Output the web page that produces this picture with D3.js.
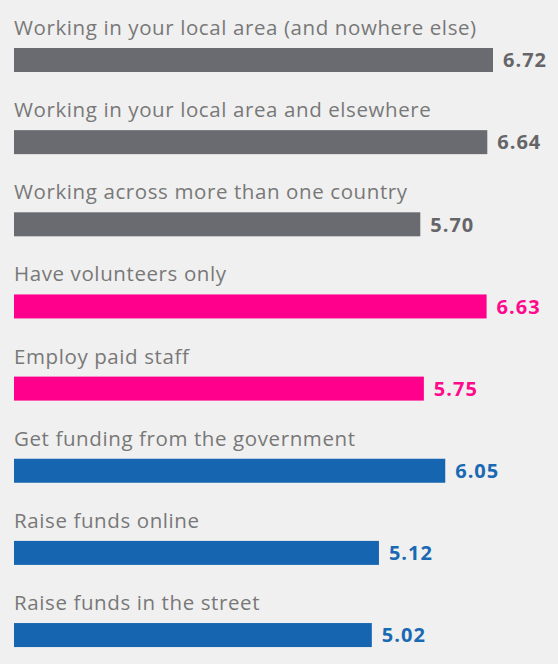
<!DOCTYPE html>
<html lang="en">
<head>
    <meta charset="UTF-8">
    <title>Ratings by group</title>
    <script src="https://cdn.jsdelivr.net/npm/d3@7"></script>
    <style>
        body {
            margin: 0;
            background-color: #f0f0f0;
        }

        .cat {
            font-family: "Open Sans", sans-serif;
            font-size: 20.5px;
            letter-spacing: 0.6px;
            fill: #787878;
        }

        .val {
            font-family: "Open Sans", sans-serif;
            font-size: 20px;
            letter-spacing: 1px;
            font-weight: bold;
        }
    </style>
</head>
<body>
    <script>
        const categories = [
            'Working in your local area (and nowhere else)',
            'Working in your local area and elsewhere',
            'Working across more than one country',
            'Have volunteers only',
            'Employ paid staff',
            'Get funding from the government',
            'Raise funds online',
            'Raise funds in the street'
        ];
        const values = [6.72, 6.64, 5.70, 6.63, 5.75, 6.05, 5.12, 5.02];
        const groups = ['area', 'area', 'area', 'staff', 'staff', 'funds', 'funds', 'funds'];

        const w = 558;
        const h = 664;
        const left = 14;

        const dataset = categories.map((c, i) => ({ name: c, value: values[i], group: groups[i] }));

        const svg = d3.select('body')
            .append('svg')
            .attr('width', w)
            .attr('height', h);

        const xScale = d3.scaleLinear([0, 6.72], [left, 493]);

        const yScale = d3.scaleBand(categories, [48, 48 + 82.15 * 8])
            .paddingInner(0)
            .paddingOuter(0);

        const barColor = d3.scaleOrdinal(['area', 'staff', 'funds'], ['#6a6b70', '#ff008c', '#1565b0']);
        const textColor = d3.scaleOrdinal(['area', 'staff', 'funds'], ['#666669', '#ff0a8c', '#1a69b3']);

        const rows = svg.selectAll('g.row')
            .data(dataset)
            .enter()
            .append('g')
            .attr('class', 'row')
            .attr('transform', d => `translate(0, ${yScale(d.name)})`);

        rows.append('text')
            .attr('class', 'cat')
            .attr('x', left)
            .attr('y', -13)
            .text(d => d.name);

        rows.append('rect')
            .attr('x', xScale(0))
            .attr('y', 0)
            .attr('width', d => xScale(d.value) - xScale(0))
            .attr('height', 24)
            .attr('fill', d => barColor(d.group));

        rows.append('text')
            .attr('class', 'val')
            .attr('x', d => xScale(d.value) + 10)
            .attr('y', 12)
            .attr('dy', '0.36em')
            .attr('fill', d => textColor(d.group))
            .text(d => d.value.toFixed(2));
    </script>
</body>
</html>
